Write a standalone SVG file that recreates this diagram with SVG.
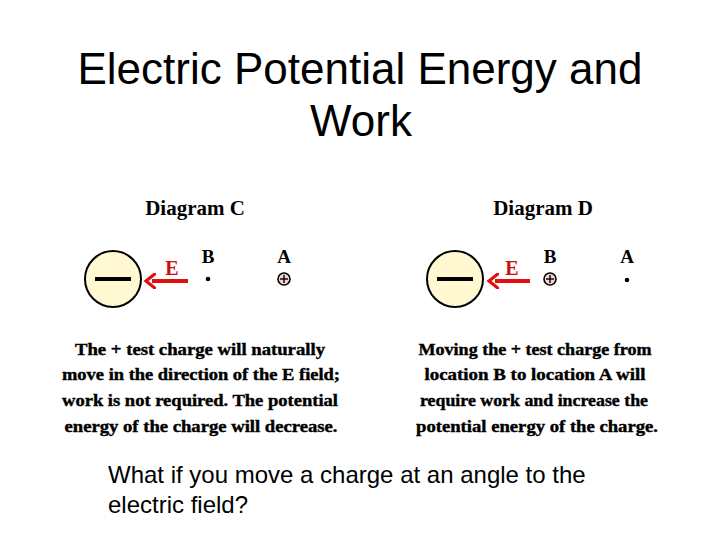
<svg xmlns="http://www.w3.org/2000/svg" width="720" height="540" viewBox="0 0 720 540">
<defs>
<style>
.title{font-family:"Liberation Sans",Arial,sans-serif;font-size:44px;fill:#000;text-anchor:middle}
.q{font-family:"Liberation Sans",Arial,sans-serif;font-size:24px;fill:#000}
.hd{font-family:"Liberation Serif","Times New Roman",serif;font-weight:bold;font-size:21px;fill:#000;text-anchor:middle}
.lbl{font-family:"Liberation Serif","Times New Roman",serif;font-weight:bold;font-size:19px;fill:#000;text-anchor:middle}
.e{font-family:"Liberation Serif","Times New Roman",serif;font-weight:bold;font-size:20px;fill:#c81010;text-anchor:middle}
.body{font-family:"Liberation Serif","Times New Roman",serif;font-weight:bold;font-size:17px;fill:#000;text-anchor:middle;stroke:#000;stroke-width:0.4}
.big{fill:#fff8d0;stroke:#000;stroke-width:2}
.minus{stroke:#000;stroke-width:4}
.plus{fill:#f4d4d4;stroke:#000;stroke-width:1.6}
.pl{stroke:#000;stroke-width:1.4}
.arrow{stroke:#e01010;stroke-width:4;fill:none}
</style>
<marker id="ah" markerWidth="4" markerHeight="4" refX="1" refY="2" orient="auto" markerUnits="strokeWidth">
<path d="M0,0 L2.5,2 L0,4" fill="none" stroke="#e01010" stroke-width="0.8"/>
</marker>
</defs>
<rect width="720" height="540" fill="#fff"/>
<g id="title">
<text class="title" x="360" y="84">Electric Potential Energy and</text>
<text class="title" x="361" y="136">Work</text>
</g>
<g id="diagramC">
<text class="hd" x="195" y="215">Diagram C</text>
<g id="C-charge"><circle class="big" cx="113" cy="279" r="28"/><line class="minus" x1="95" y1="279" x2="131" y2="279"/></g>
<text class="e" x="172" y="275">E</text>
<g id="C-B"><text class="lbl" x="208" y="263">B</text><circle cx="208" cy="279" r="2.3" fill="#000"/></g>
<g id="C-A"><text class="lbl" x="284" y="263">A</text><circle class="plus" cx="284" cy="279" r="6"/><line class="pl" x1="280" y1="279" x2="288" y2="279"/><line class="pl" x1="284" y1="275" x2="284" y2="283"/></g>
<g id="C-text">
<text class="body" x="200" y="355" textLength="250" lengthAdjust="spacingAndGlyphs">The + test charge will naturally</text>
<text class="body" x="201" y="380" textLength="278" lengthAdjust="spacingAndGlyphs">move in the direction of the E field;</text>
<text class="body" x="200" y="406" textLength="276" lengthAdjust="spacingAndGlyphs">work is not required.  The potential</text>
<text class="body" x="201" y="432" textLength="273" lengthAdjust="spacingAndGlyphs">energy of the charge will decrease.</text>
</g>
</g>
<g id="diagramD">
<text class="hd" x="543" y="215">Diagram D</text>
<g id="D-charge"><circle class="big" cx="455" cy="279" r="28"/><line class="minus" x1="437" y1="279" x2="473" y2="279"/></g>
<text class="e" x="512" y="275">E</text>
<g id="D-B"><text class="lbl" x="550" y="263">B</text><circle class="plus" cx="550" cy="279" r="6"/><line class="pl" x1="546" y1="279" x2="554" y2="279"/><line class="pl" x1="550" y1="275" x2="550" y2="283"/></g>
<g id="D-A"><text class="lbl" x="627" y="263">A</text><circle cx="627" cy="280" r="2.3" fill="#000"/></g>
<g id="D-text">
<text class="body" x="535" y="355" textLength="233" lengthAdjust="spacingAndGlyphs">Moving the + test charge from</text>
<text class="body" x="535" y="380" textLength="221" lengthAdjust="spacingAndGlyphs">location B to location A will</text>
<text class="body" x="534" y="406" textLength="228" lengthAdjust="spacingAndGlyphs">require work and increase the</text>
<text class="body" x="537" y="432" textLength="242" lengthAdjust="spacingAndGlyphs">potential energy of the charge.</text>
</g>
</g>
<g id="connectors">
<line class="arrow" x1="188" y1="281" x2="152" y2="281" marker-end="url(#ah)"/>
<line class="arrow" x1="530" y1="281" x2="495" y2="281" marker-end="url(#ah)"/>
</g>
<g id="question">
<text class="q" x="108" y="483">What if you move a charge at an angle to the</text>
<text class="q" x="108" y="513">electric field?</text>
</g>
</svg>
